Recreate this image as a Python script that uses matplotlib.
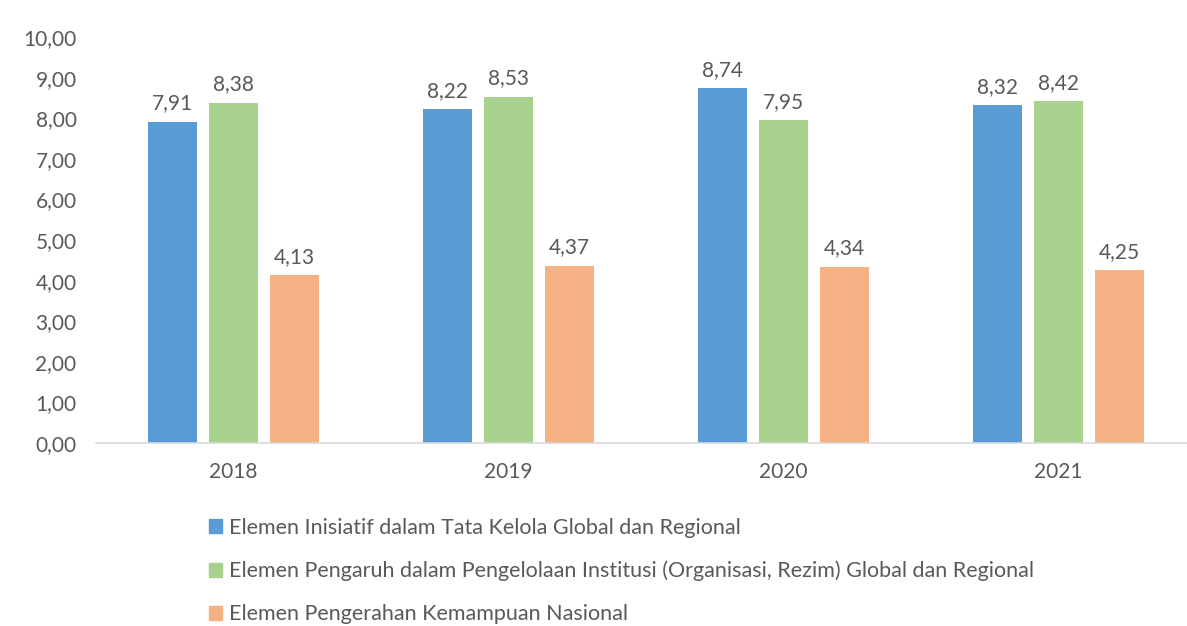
import matplotlib
matplotlib.use('Agg')
import matplotlib.pyplot as plt
import numpy as np
from matplotlib.patches import Patch

# ===== data =====
years = ['2018', '2019', '2020', '2021']
inisiatif = [7.91, 8.22, 8.74, 8.32]
pengaruh = [8.38, 8.53, 7.95, 8.42]
pengerahan = [4.13, 4.37, 4.34, 4.25]

labels = [
    'Elemen Inisiatif dalam Tata Kelola Global dan Regional',
    'Elemen Pengaruh dalam Pengelolaan Institusi (Organisasi, Rezim) Global dan Regional',
    'Elemen Pengerahan Kemampuan Nasional',
]
colors = ['#5B9BD5', '#A9D18E', '#F4B183']
TXT = '#595959'
FS = 15

plt.rcParams['font.family'] = ['Lato', 'DejaVu Sans']

fig = plt.figure(figsize=(11.87, 6.26), dpi=100)
ax = fig.add_axes([96 / 1187, (626 - 443) / 626, 1 - 96 / 1187, (443 - 37) / 626])

x = np.arange(len(years))
w = 0.175
step = 0.222
series = [inisiatif, pengaruh, pengerahan]
for i, (vals, c) in enumerate(zip(series, colors)):
    bars = ax.bar(x + (i - 1) * step, vals, width=w, color=c, zorder=2)
    for b, v in zip(bars, vals):
        ax.annotate(f'{v:.2f}'.replace('.', ','), (b.get_x() + b.get_width() / 2, v),
                    xytext=(0, 6), textcoords='offset points', ha='center', va='bottom',
                    fontsize=FS, color=TXT)

ax.set_xlim(-0.5, -0.5 + (1187 - 96) / 275)
ax.set_ylim(0, 10)
ax.set_yticks(np.arange(0, 11, 1))
ax.set_yticklabels([f'{t:.2f}'.replace('.', ',') for t in range(11)])
ax.set_xticks(x)
ax.set_xticklabels(years)
ax.tick_params(axis='both', length=0, labelsize=FS, labelcolor=TXT)
ax.tick_params(axis='y', pad=14)
ax.tick_params(axis='x', pad=14)
for s in ['top', 'right', 'left']:
    ax.spines[s].set_visible(False)
ax.spines['bottom'].set_color('#D9D9D9')
ax.spines['bottom'].set_linewidth(1.2)

handles = [Patch(color=c) for c in colors]
fig.legend(handles, labels, loc='upper left', bbox_to_anchor=(198 / 1187, 1 - 507 / 626),
           frameon=False, fontsize=15.5, labelcolor=TXT, handlelength=0.6, handleheight=0.6,
           handletextpad=0.35, labelspacing=1.07, borderpad=0)

fig.savefig('out.png', dpi=100)
